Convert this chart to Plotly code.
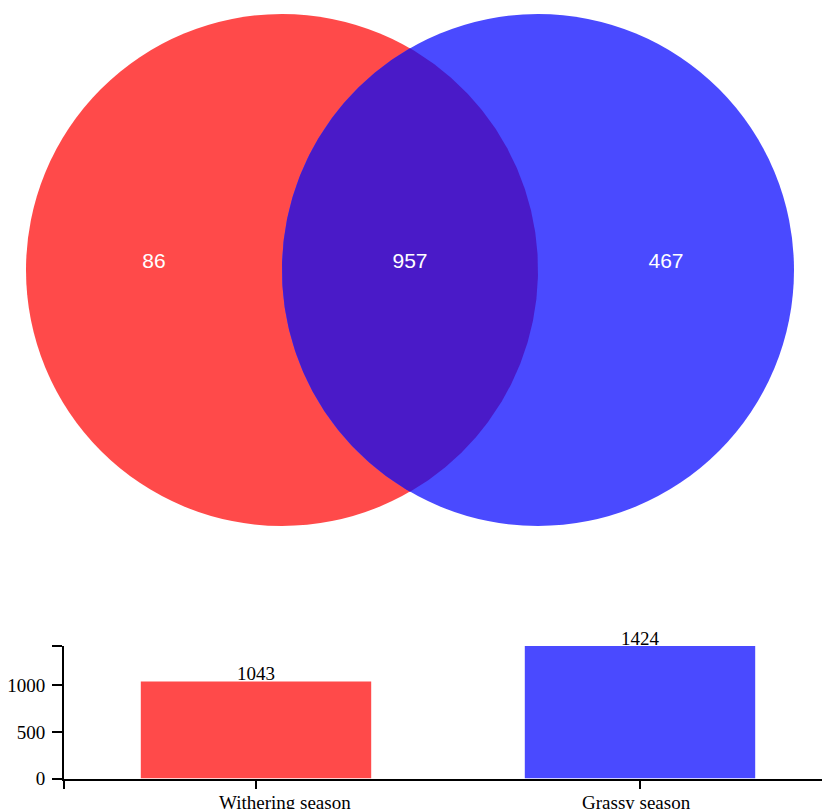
import numpy as np
import plotly.graph_objects as go

# Venn region counts
only_withering = 86
shared = 957
only_grassy = 467

# Totals per season (bar chart)
seasons = ["Withering season", "Grassy season"]
totals = [1043, 1424]
y_ticks = [0, 500, 1000]

RED = "#FF4A4A"
BLUE = "#4A4AFF"
OVERLAP = "#4A1AC8"

W, H = 822, 809
R = 256
CX_A, CX_B, CY = 282, 538, 270

fig = go.Figure()

# Lens-shaped intersection of the two circles
d = CX_B - CX_A
a = d / 2
h = np.sqrt(R**2 - a**2)
ang_b = np.arctan2(h, -a)
ang_a = np.arctan2(h, a)
t1 = np.linspace(ang_b, 2 * np.pi - ang_b, 240)  # left arc (circle B)
t2 = np.linspace(-ang_a, ang_a, 240)             # right arc (circle A)
lx = np.concatenate([CX_B + R * np.cos(t1), CX_A + R * np.cos(t2)])
ly = np.concatenate([CY - R * np.sin(t1), CY - R * np.sin(t2)])
fig.add_trace(go.Scatter(x=lx, y=ly, mode="lines", fill="toself",
                         fillcolor=OVERLAP, line=dict(width=0),
                         hoverinfo="skip", showlegend=False,
                         xaxis="x", yaxis="y"))

# Region labels
label_x = [(CX_A - R + CX_B - R) / 2, (CX_A + CX_B) / 2, (CX_A + R + CX_B + R) / 2]
counts = [only_withering, shared, only_grassy]
fig.add_trace(go.Scatter(x=label_x, y=[CY - 7] * 3, mode="text",
                         text=[str(c) for c in counts],
                         textfont=dict(family="Liberation Sans", size=21, color="white"),
                         hoverinfo="skip", showlegend=False,
                         xaxis="x", yaxis="y"))

# Circles
for cx, col in [(CX_A, RED), (CX_B, BLUE)]:
    fig.add_shape(type="circle", xref="x", yref="y",
                  x0=cx - R, x1=cx + R, y0=CY - R, y1=CY + R,
                  fillcolor=col, line=dict(width=0), layer="below")

# Bars
fig.add_trace(go.Bar(x=[0, 1], y=totals, width=0.6,
                     marker=dict(color=[RED, BLUE], line=dict(width=0)),
                     hoverinfo="skip", showlegend=False,
                     xaxis="x2", yaxis="y2"))

serif = dict(family="Liberation Serif", size=19, color="black")

# Value labels sitting on the bars
for i, v in enumerate(totals):
    fig.add_annotation(x=i, y=v, xref="x2", yref="y2", text=str(v),
                       showarrow=False, yanchor="bottom", yshift=-5, font=serif)

# Category labels under the x axis
for i, (name, dx) in enumerate(zip(seasons, [29, -4])):
    fig.add_annotation(x=i, y=0, xref="x2", yref="y2", text=name,
                       showarrow=False, yanchor="top", xshift=dx, yshift=-11,
                       font=serif)

ymax = max(totals)
y_bot, y_top = 778.5, 646
fig.update_layout(
    template="none",
    width=W, height=H, autosize=False,
    margin=dict(l=0, r=0, t=0, b=0, pad=0),
    paper_bgcolor="white", plot_bgcolor="rgba(0,0,0,0)",
    xaxis=dict(domain=[0, 1], range=[0, W], visible=False, fixedrange=True,
               automargin=False),
    yaxis=dict(domain=[0, 1], range=[H, 0], visible=False, fixedrange=True,
               automargin=False),
    xaxis2=dict(domain=[64 / W, 1], range=[-0.5, -0.5 + 758 / 384],
                anchor="y2", showline=True, linecolor="black", linewidth=2,
                ticks="outside", ticklen=8, tickwidth=2, tickcolor="black",
                tickvals=[-0.5, 0, 1], showticklabels=False,
                showgrid=False, zeroline=False, automargin=False),
    yaxis2=dict(domain=[(H - y_bot) / H, (H - y_top) / H], range=[0, ymax],
                anchor="x2", showline=True, linecolor="black", linewidth=2,
                ticks="outside", ticklen=10, tickwidth=2, tickcolor="black",
                tickvals=y_ticks + [ymax], ticktext=[str(t) for t in y_ticks] + [""],
                tickfont=serif, showgrid=False, zeroline=False,
                ticklabelstandoff=3, automargin=False),
)

fig.write_html("out.html")
